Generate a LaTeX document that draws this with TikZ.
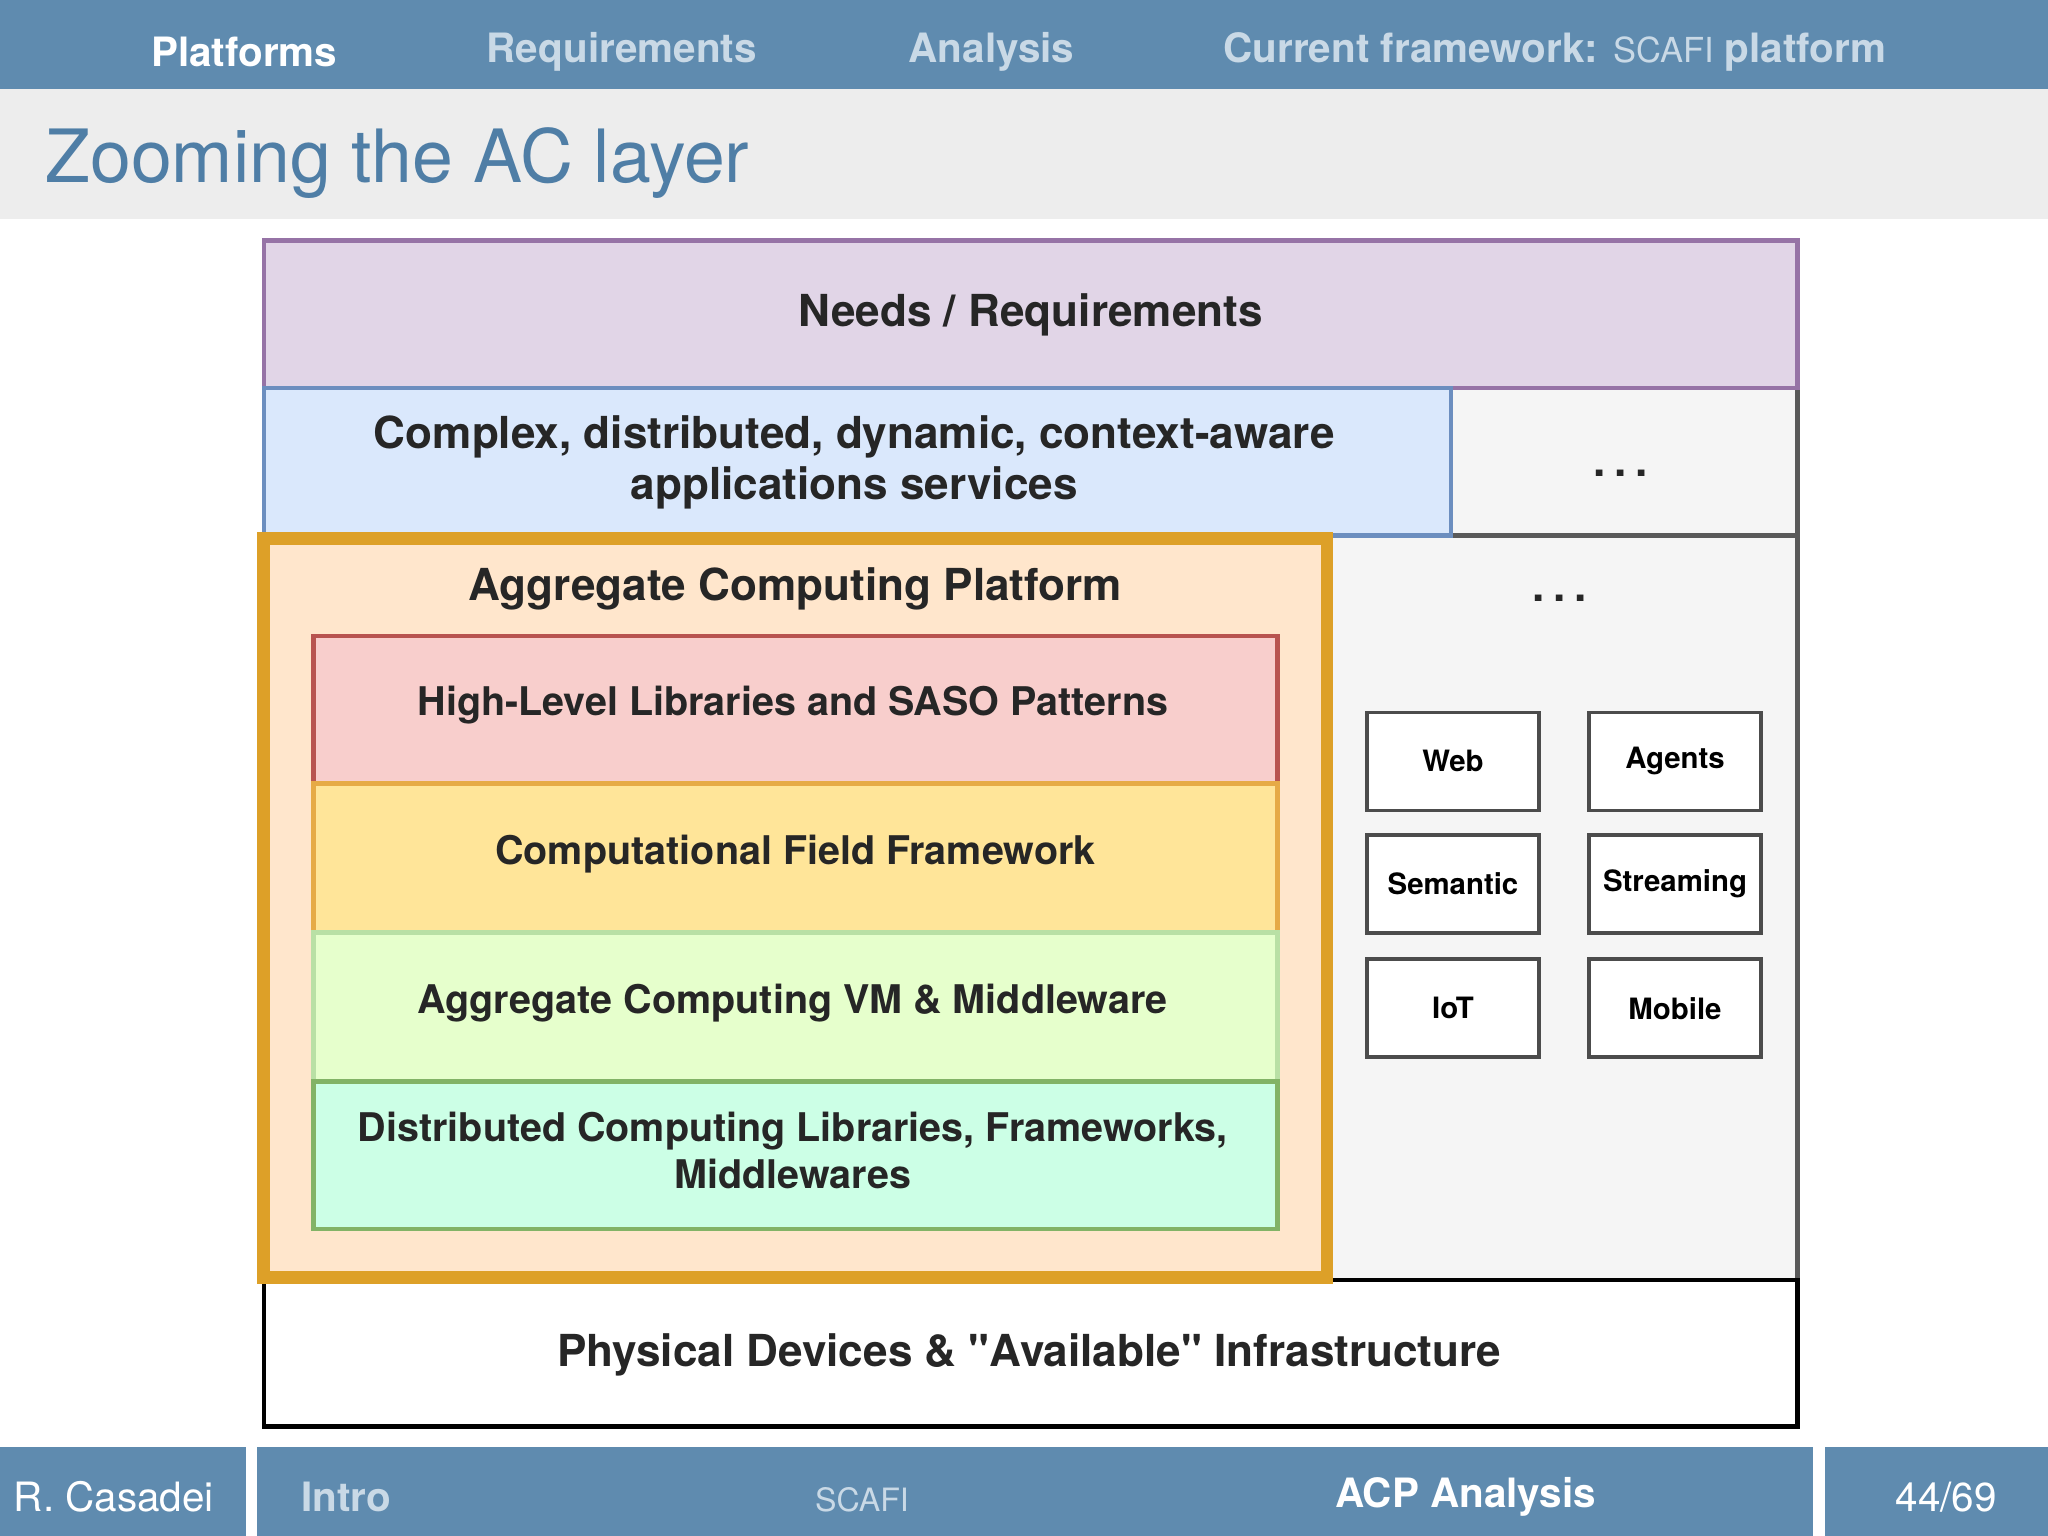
\documentclass[tikz,border=0pt]{standalone}
\usepackage{fontspec}
\setmainfont{TeX Gyre Heros}
\newfontfamily\qfont{TeX Gyre Heros}
\newcommand{\dq}{{\qfont\bfseries"}}
\begin{document}
\begin{tikzpicture}[x=0.01cm,y=-0.01cm,
  lay/.style={draw,line width=1pt,inner sep=0pt},
  btxt/.style={font=\fontsize{9.6}{11}\selectfont\bfseries,align=center,text=black!85},
  ltxt/.style={font=\fontsize{8.6}{10.2}\selectfont\bfseries,align=center,text=black!85},
  sbox/.style={draw=black!70,line width=0.8pt,fill=white,minimum width=1.32cm,minimum height=0.75cm,anchor=north west,font=\fontsize{6.4}{8}\selectfont\bfseries,inner sep=0pt},
  hd/.style={font=\fontsize{8.8}{10}\selectfont\bfseries,anchor=west,inner sep=0pt}]
\definecolor{barblue}{HTML}{5F8BAF}
\definecolor{titleblue}{HTML}{4F7EA6}
\definecolor{fadew}{HTML}{C9D9E6}
\useasboundingbox (0,0) rectangle (1568,1176);
\fill[white] (0,0) rectangle (1568,1176);
% header
\fill[barblue] (0,0) rectangle (1568,68);
\node[hd,text=white] (h1) at (115,40) {Platforms};
\node[hd,text=fadew] (h2) at (372,40) {Requirements};
\node[hd,text=fadew] (h3) at (695,40) {Analysis};
\node[hd,text=fadew] (h4) at (936,40) {Current framework: {\mdseries\fontsize{7.5}{9}\selectfont SCAFI} platform};
\fill[black!7] (0,68) rectangle (1568,168);
\node[anchor=west,inner sep=0pt,text=titleblue,font=\fontsize{16}{18}\selectfont] (title) at (34,125) {Zooming the AC layer};
% footer
\fill[barblue] (0,1108) rectangle (188,1176);
\fill[barblue] (197,1108) rectangle (1388,1176);
\fill[barblue] (1397,1108) rectangle (1568,1176);
\node[anchor=west,inner sep=0pt,text=white,font=\fontsize{8.8}{10}\selectfont] (f1) at (10,1146) {R. Casadei};
\node[anchor=west,inner sep=0pt,text=fadew,font=\fontsize{8.8}{10}\selectfont\bfseries] (f2) at (230,1146) {Intro};
\node[text=fadew,font=\fontsize{7}{9}\selectfont] (f3) at (660,1148) {SCAFI};
\node[text=white,font=\fontsize{8.8}{10}\selectfont\bfseries] (f4) at (1122,1146) {ACP Analysis};
\node[text=white,font=\fontsize{8.8}{10}\selectfont] (f5) at (1490,1146) {44/69};
% diagram
\draw[lay,draw=black!65,fill=black!4] (202,410) rectangle (1376,980);
\draw[lay,draw=black!65,fill=black!4] (1111,297) rectangle (1376,410);
\draw[lay,draw=black,fill=white] (202,980) rectangle (1376,1092);
\draw[lay,draw={rgb,255:red,150;green,115;blue,166},fill={rgb,255:red,225;green,213;blue,231}] (202,184) rectangle (1376,297);
\draw[lay,draw={rgb,255:red,108;green,142;blue,191},fill={rgb,255:red,218;green,232;blue,252}] (202,297) rectangle (1111,410);
\draw[draw={rgb,255:red,221;green,160;blue,40},fill={rgb,255:red,255;green,230;blue,204},line width=2.8pt] (202,412) rectangle (1016,978);
\draw[lay,draw={rgb,255:red,184;green,84;blue,80},fill={rgb,255:red,248;green,206;blue,204}] (240,487) rectangle (978,600);
\draw[lay,draw={rgb,255:red,230;green,170;blue,70},fill={rgb,255:red,255;green,229;blue,153}] (240,600) rectangle (978,714);
\draw[lay,draw={rgb,255:red,185;green,224;blue,165},fill={rgb,255:red,230;green,255;blue,204}] (240,714) rectangle (978,828);
\draw[lay,draw={rgb,255:red,130;green,179;blue,102},fill={rgb,255:red,204;green,255;blue,230}] (240,828) rectangle (978,941);
\node[btxt] (needs) at (789,241) {Needs / Requirements};
\node[btxt] (apps) at (654,354) {Complex, distributed, dynamic, context-aware\\applications services};
\node[btxt] (dots1) at (1241,362) {.\hspace{0.2em}.\hspace{0.2em}.};
\node[btxt] (dots2) at (1194,458) {.\hspace{0.2em}.\hspace{0.2em}.};
\node[btxt] (acp) at (609,451) {Aggregate Computing Platform};
\node[ltxt] (hl) at (607,540) {High-Level Libraries and SASO Patterns};
\node[ltxt] (cf) at (609,654) {Computational Field Framework};
\node[ltxt] (vm) at (607,768) {Aggregate Computing VM \& Middleware};
\node[ltxt] (dc) at (607,881) {Distributed Computing Libraries, Frameworks,\\Middlewares};
\node[btxt] (phys) at (788,1037) {Physical Devices \& \dq Available\dq{} Infrastructure};
\node[sbox] (web) at (1045,544) {Web};
\node[sbox] (agents) at (1215,544) {Agents};
\node[sbox] (sem) at (1045,638) {Semantic};
\node[sbox] (str) at (1215,638) {Streaming};
\node[sbox] (iot) at (1045,733) {IoT};
\node[sbox] (mob) at (1215,733) {Mobile};
\end{tikzpicture}
\end{document}
